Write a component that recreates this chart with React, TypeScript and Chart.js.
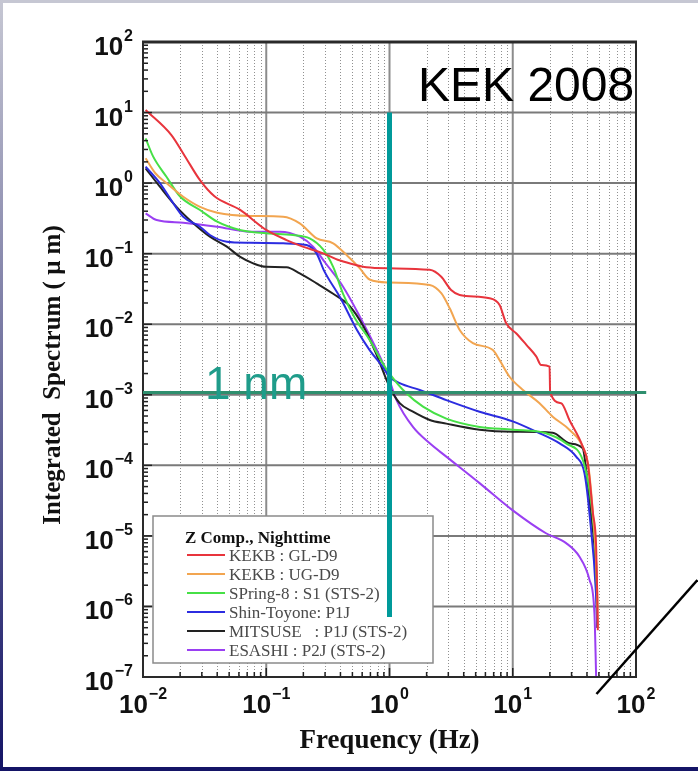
import React, { useEffect, useRef } from "react";
import { Chart, registerables } from "chart.js";

Chart.register(...registerables);

// ---------- axis definitions ----------
const X_DECADES = [0.01, 0.1, 1, 10, 100];
const X_EXPONENTS = ["\u22122", "\u22121", "0", "1", "2"];
const Y_DECADES = [1e2, 1e1, 1e0, 1e-1, 1e-2, 1e-3, 1e-4, 1e-5, 1e-6, 1e-7];
const Y_EXPONENTS = ["2", "1", "0", "\u22121", "\u22122", "\u22123", "\u22124", "\u22125", "\u22126", "\u22127"];
const X_TITLE = "Frequency (Hz)";
const Y_TITLE = "Integrated  Spectrum ( \u03bc m)";
const LEGEND_TITLE = "Z Comp., Nighttime";

// ---------- series ----------
const SERIES_NAMES = [
  "KEKB : GL-D9",
  "KEKB : UG-D9",
  "SPring-8 : S1 (STS-2)",
  "Shin-Toyone: P1J",
  "MITSUSE   : P1J (STS-2)",
  "ESASHI : P2J (STS-2)",
];
const SERIES_COLORS = ["#e8343c", "#f2a550", "#46e046", "#2c2ce0", "#222222", "#9a3ff2"];

const RED_F = [0.0105, 0.017, 0.022, 0.029, 0.038, 0.061, 0.1, 0.146, 0.198, 0.29, 0.38, 0.504, 0.65, 1.0, 2.12, 2.63, 3.16, 3.71, 6.49, 7.82, 8.85, 10.7, 12.9, 15.5, 17.0, 19.9, 20.1, 24.7, 28.8, 37.0, 40.6, 44.7, 47.5, 48.5, 49.0];
const RED_V = [10.9, 4.8, 2.37, 1.1, 0.65, 0.42, 0.217, 0.156, 0.126, 0.101, 0.082, 0.071, 0.064, 0.062, 0.059, 0.047, 0.0305, 0.026, 0.0233, 0.0187, 0.0103, 0.0074, 0.0051, 0.0035, 0.00264, 0.0025, 0.0011, 7.6e-4, 4.4e-4, 1.84e-4, 1.07e-4, 2.1e-5, 7e-6, 1.4e-6, 4.6e-7];

const ORANGE_F = [0.0105, 0.0126, 0.0155, 0.0212, 0.029, 0.04, 0.074, 0.137, 0.187, 0.257, 0.349, 0.45, 0.57, 0.69, 1.0, 2.12, 2.63, 3.08, 3.71, 4.75, 6.9, 7.82, 9.42, 12.1, 16.5, 21.1, 28.8, 37.0, 41.0, 44.0, 47.0, 48.5, 49.0];
const ORANGE_V = [2.25, 1.38, 1.0, 0.64, 0.46, 0.38, 0.342, 0.334, 0.269, 0.165, 0.14, 0.095, 0.063, 0.043, 0.039, 0.036, 0.0275, 0.0168, 0.0083, 0.0054, 0.0043, 0.0031, 0.0018, 0.00117, 7.6e-4, 4.9e-4, 3.2e-4, 1.84e-4, 1.0e-4, 3e-5, 6e-6, 1.5e-6, 5e-7];

const GREEN_F = [0.0105, 0.0121, 0.0155, 0.02, 0.029, 0.04, 0.061, 0.1, 0.165, 0.225, 0.289, 0.349, 0.42, 0.52, 0.69, 0.88, 1.0, 1.37, 1.87, 2.89, 5.38, 10, 18.6, 27.1, 37.0, 41.9, 45.7, 47.5, 48.5];
const GREEN_V = [4.3, 2.37, 1.23, 0.645, 0.416, 0.284, 0.217, 0.195, 0.184, 0.165, 0.115, 0.065, 0.027, 0.0125, 0.006, 0.0028, 0.002, 0.00105, 6.8e-4, 4.6e-4, 3.5e-4, 3.2e-4, 2.85e-4, 2.05e-4, 1.19e-4, 4.5e-5, 1.2e-5, 4.1e-6, 1.0e-6];

const BLUE_F = [0.0105, 0.0137, 0.0176, 0.0212, 0.029, 0.0349, 0.0479, 0.0736, 0.137, 0.212, 0.256, 0.295, 0.4, 0.54, 0.69, 0.88, 1.0, 1.21, 1.76, 2.89, 5.38, 10, 15.5, 24, 32.7, 38.2, 41.9, 47.5, 48.5];
const BLUE_V = [1.71, 1.0, 0.518, 0.334, 0.241, 0.184, 0.148, 0.143, 0.14, 0.133, 0.101, 0.057, 0.0235, 0.0085, 0.0043, 0.0025, 0.0018, 0.00146, 0.00117, 8.4e-4, 5.75e-4, 4.2e-4, 3.0e-4, 2.05e-4, 1.33e-4, 7.7e-5, 2.1e-5, 1.4e-6, 5e-7];

const BLACK_F = [0.0105, 0.0137, 0.0187, 0.0256, 0.0349, 0.0479, 0.061, 0.0783, 0.1, 0.146, 0.187, 0.256, 0.349, 0.476, 0.61, 0.78, 1.0, 1.21, 1.55, 2.12, 2.89, 5.38, 10, 21.1, 28.8, 37.0, 39.4, 43.0, 47.5, 48.5];
const BLACK_V = [1.62, 0.89, 0.46, 0.27, 0.174, 0.126, 0.0906, 0.073, 0.065, 0.064, 0.0525, 0.038, 0.027, 0.018, 0.0095, 0.0038, 0.0013, 7.6e-4, 5.75e-4, 4.4e-4, 3.9e-4, 3.2e-4, 3.0e-4, 2.9e-4, 2.05e-4, 1.74e-4, 8.6e-5, 2.1e-5, 2.4e-6, 5e-7];

const PURPLE_F = [0.0105, 0.0129, 0.0212, 0.04, 0.0736, 0.129, 0.187, 0.24, 0.3, 0.42, 0.575, 0.78, 0.94, 1.14, 1.55, 2.12, 2.89, 5.38, 10, 18.6, 27.1, 34.7, 41.9, 46.0, 47.5];
const PURPLE_V = [0.373, 0.3, 0.275, 0.241, 0.205, 0.205, 0.174, 0.126, 0.075, 0.034, 0.0128, 0.0045, 0.0022, 8.4e-4, 3.5e-4, 2.05e-4, 1.33e-4, 5.6e-5, 2.3e-5, 1.09e-5, 7.9e-6, 5.1e-6, 2.4e-6, 8e-7, 1e-7];

const SERIES_F = [RED_F, ORANGE_F, GREEN_F, BLUE_F, BLACK_F, PURPLE_F];
const SERIES_V = [RED_V, ORANGE_V, GREEN_V, BLUE_V, BLACK_V, PURPLE_V];

// ---------- annotations (data coordinates) ----------
const MARK_FREQ = 1; // vertical teal line at 1 Hz
const MARK_FREQ_TOP = 10;
const MARK_FREQ_BOTTOM = 7.1e-7;
const NM_LEVEL = 1.08e-3; // 1 nm line
const NM_LINE_END_F = 121;
const DIAG_START = [47.8, 5.75e-8];
const DIAG_END = [315, 2.37e-6];
const ANNOT_TITLE = "KEK 2008";
const NM_LABEL = "1 nm";

const W = 698;
const H = 771;
const SANS = '"Liberation Sans", Arial, sans-serif';
const SERIF = '"Liberation Serif", "Times New Roman", serif';

function drawPow(ctx: CanvasRenderingContext2D, exp: string, x: number, digitBase: number, supBase: number, align: "right" | "center") {
  ctx.font = `bold 26px ${SANS}`;
  const w10 = ctx.measureText("10").width;
  ctx.font = `bold 16px ${SANS}`;
  const we = ctx.measureText(exp).width;
  const total = w10 + 1 + we;
  const start = align === "right" ? x - total : x - total / 2;
  ctx.textAlign = "left";
  ctx.textBaseline = "alphabetic";
  ctx.fillStyle = "#111";
  ctx.font = `bold 26px ${SANS}`;
  ctx.fillText("10", start, digitBase);
  ctx.font = `bold 16px ${SANS}`;
  ctx.fillText(exp, start + w10 + 1, supBase);
}

const decoPlugin = {
  id: "deco",
  beforeDraw(chart: any) {
    const ctx: CanvasRenderingContext2D = chart.ctx;
    ctx.save();
    ctx.fillStyle = "#ffffff";
    ctx.fillRect(0, 0, W, H);
    ctx.fillStyle = "#c6c7d3";
    ctx.fillRect(0, 0, W, 3);
    const g = ctx.createLinearGradient(0, 0, 0, H);
    g.addColorStop(0, "#c6c7d3");
    g.addColorStop(1, "#141466");
    ctx.fillStyle = g;
    ctx.fillRect(0, 0, 3, H);
    ctx.fillStyle = "#141466";
    ctx.fillRect(0, 767, W, 4);
    ctx.restore();
  },
  beforeDatasetsDraw(chart: any) {
    const ctx: CanvasRenderingContext2D = chart.ctx;
    const xs = chart.scales.x;
    const ys = chart.scales.y;
    const { left, right, top, bottom } = chart.chartArea;
    ctx.save();
    // minor vertical dotted lines
    ctx.strokeStyle = "#909090";
    ctx.lineWidth = 1;
    ctx.setLineDash([1, 2]);
    for (let i = 0; i < X_DECADES.length - 1; i++) {
      for (let k = 2; k <= 9; k++) {
        const px = Math.round(xs.getPixelForValue(X_DECADES[i] * k)) + 0.5;
        ctx.beginPath();
        ctx.moveTo(px, top);
        ctx.lineTo(px, bottom);
        ctx.stroke();
      }
    }
    ctx.setLineDash([]);
    // major vertical lines
    ctx.strokeStyle = "#8c8c8c";
    ctx.lineWidth = 2;
    for (let i = 1; i < X_DECADES.length - 1; i++) {
      const px = xs.getPixelForValue(X_DECADES[i]);
      ctx.beginPath();
      ctx.moveTo(px, top);
      ctx.lineTo(px, bottom);
      ctx.stroke();
    }
    // major horizontal lines
    ctx.strokeStyle = "#7a7a7a";
    for (let i = 1; i < Y_DECADES.length - 1; i++) {
      const py = ys.getPixelForValue(Y_DECADES[i]);
      ctx.beginPath();
      ctx.moveTo(left, py);
      ctx.lineTo(right, py);
      ctx.stroke();
    }
    ctx.restore();
  },
  afterDatasetsDraw(chart: any) {
    const ctx: CanvasRenderingContext2D = chart.ctx;
    const xs = chart.scales.x;
    const ys = chart.scales.y;
    const { left, right, top, bottom } = chart.chartArea;
    ctx.save();

    // inward ticks, left axis
    ctx.strokeStyle = "#222";
    ctx.lineWidth = 1.5;
    for (let i = Y_DECADES.length - 1; i > 0; i--) {
      for (let k = 1; k <= 9; k++) {
        const py = ys.getPixelForValue(Y_DECADES[i] * k);
        const len = k === 1 ? 9 : 5;
        ctx.beginPath();
        ctx.moveTo(left, py);
        ctx.lineTo(left + len, py);
        ctx.stroke();
      }
    }
    // inward ticks, bottom axis
    for (let i = 0; i < X_DECADES.length - 1; i++) {
      for (let k = 1; k <= 9; k++) {
        const px = xs.getPixelForValue(X_DECADES[i] * k);
        const len = k === 1 ? 9 : 5;
        ctx.beginPath();
        ctx.moveTo(px, bottom);
        ctx.lineTo(px, bottom - len);
        ctx.stroke();
      }
    }

    // frame
    ctx.strokeStyle = "#2a2a2a";
    ctx.lineWidth = 2;
    ctx.strokeRect(left, top, right - left, bottom - top);
    ctx.lineWidth = 3;
    ctx.beginPath();
    ctx.moveTo(left - 1, top);
    ctx.lineTo(right + 1, top);
    ctx.stroke();

    // y tick labels
    Y_DECADES.forEach((d, i) => {
      const py = ys.getPixelForValue(d);
      drawPow(ctx, Y_EXPONENTS[i], 133, py + 13, py - 1, "right");
    });
    // x tick labels
    X_DECADES.forEach((d, i) => {
      const px = xs.getPixelForValue(d);
      drawPow(ctx, X_EXPONENTS[i], px, bottom + 36, bottom + 22, "center");
    });

    // axis titles
    ctx.fillStyle = "#111";
    ctx.font = `bold 27px ${SERIF}`;
    ctx.textAlign = "center";
    ctx.textBaseline = "alphabetic";
    ctx.fillText(X_TITLE, (left + right) / 2, 748);
    ctx.save();
    ctx.translate(60, 375);
    ctx.rotate(-Math.PI / 2);
    ctx.font = `bold 25px ${SERIF}`;
    ctx.fillText(Y_TITLE, 0, 0);
    ctx.restore();

    // legend
    const lx = 153, ly = 516, lw = 280, lh = 147;
    ctx.fillStyle = "#ffffff";
    ctx.fillRect(lx, ly, lw, lh);
    ctx.strokeStyle = "#8a8a8a";
    ctx.lineWidth = 1.5;
    ctx.strokeRect(lx, ly, lw, lh);
    ctx.textAlign = "left";
    ctx.fillStyle = "#111";
    ctx.font = `bold 17px ${SERIF}`;
    ctx.fillText(LEGEND_TITLE, 185, 543);
    ctx.font = `17px ${SERIF}`;
    SERIES_NAMES.forEach((name, i) => {
      const cy = 555 + i * 19;
      ctx.strokeStyle = SERIES_COLORS[i];
      ctx.lineWidth = 2;
      ctx.beginPath();
      ctx.moveTo(187, cy);
      ctx.lineTo(225, cy);
      ctx.stroke();
      ctx.fillStyle = "#4a4a4a";
      ctx.fillText(name, 229, cy + 6);
    });

    // KEK 2008
    ctx.fillStyle = "#000";
    ctx.font = `48px ${SANS}`;
    ctx.fillText(ANNOT_TITLE, 418, 101);

    // 1 nm horizontal line
    const nmY = ys.getPixelForValue(NM_LEVEL);
    ctx.strokeStyle = "#2e8f6e";
    ctx.lineWidth = 3;
    ctx.beginPath();
    ctx.moveTo(xs.getPixelForValue(X_DECADES[0]), nmY);
    ctx.lineTo(xs.getPixelForValue(NM_LINE_END_F), nmY);
    ctx.stroke();

    // 1 nm label
    ctx.fillStyle = "#1f9c8a";
    ctx.font = `46px ${SANS}`;
    ctx.fillText(NM_LABEL, 205, 399);

    // vertical teal line at 1 Hz
    const mx = xs.getPixelForValue(MARK_FREQ);
    ctx.strokeStyle = "#009a9a";
    ctx.lineWidth = 5;
    ctx.beginPath();
    ctx.moveTo(mx, ys.getPixelForValue(MARK_FREQ_TOP));
    ctx.lineTo(mx, ys.getPixelForValue(MARK_FREQ_BOTTOM));
    ctx.stroke();

    // diagonal black line
    ctx.strokeStyle = "#000";
    ctx.lineWidth = 2.5;
    ctx.beginPath();
    ctx.moveTo(xs.getPixelForValue(DIAG_START[0]), ys.getPixelForValue(DIAG_START[1]));
    ctx.lineTo(xs.getPixelForValue(DIAG_END[0]), ys.getPixelForValue(DIAG_END[1]));
    ctx.stroke();

    ctx.restore();
  },
};

export default function App() {
  const ref = useRef<HTMLCanvasElement | null>(null);
  useEffect(() => {
    document.body.style.margin = "0";
    const canvas = ref.current;
    if (!canvas) return;
    const chart = new Chart(canvas, {
      type: "line",
      data: {
        datasets: SERIES_NAMES.map((name, i) => ({
          label: name,
          data: SERIES_F[i].map((f, j) => ({ x: f, y: SERIES_V[i][j] })),
          borderColor: SERIES_COLORS[i],
          backgroundColor: SERIES_COLORS[i],
          borderWidth: 2,
          pointRadius: 0,
          fill: false,
          cubicInterpolationMode: "monotone" as const,
        })),
      },
      options: {
        responsive: false,
        animation: false,
        devicePixelRatio: 1,
        layout: { padding: { left: 143, top: 42, right: 62, bottom: 94 } },
        scales: {
          x: { type: "logarithmic", min: 0.01, max: 100, display: false },
          y: { type: "logarithmic", min: 1e-7, max: 100, display: false },
        },
        plugins: {
          legend: { display: false },
          tooltip: { enabled: false },
        },
      },
      plugins: [decoPlugin],
    } as any);
    return () => chart.destroy();
  }, []);
  return (
    <div style={{ width: W, height: H, position: "relative", background: "#fff" }}>
      <canvas ref={ref} width={W} height={H} style={{ display: "block", width: W, height: H }} />
    </div>
  );
}
